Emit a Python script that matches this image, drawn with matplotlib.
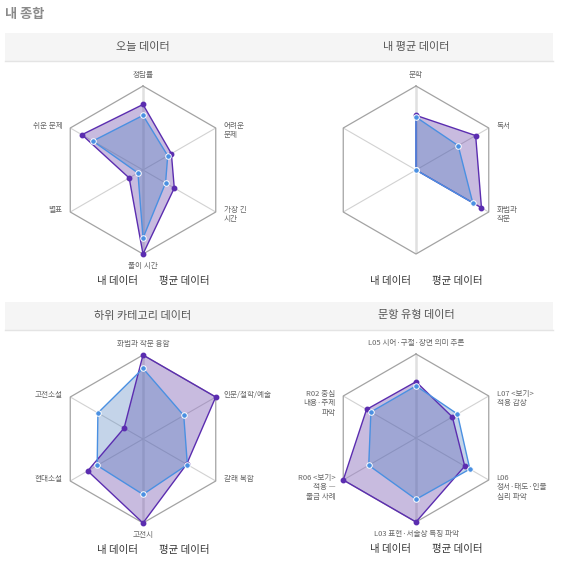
import numpy as np
import matplotlib.pyplot as plt
from matplotlib.patches import Rectangle

plt.rcParams['font.family'] = ['Noto Sans CJK KR', 'DejaVu Sans']

W, H = 561, 581

# ---- data ----
today_labels = ["정답률", "어려운\n문제", "가장 긴\n시간", "풀이 시간", "별표", "쉬운 문제"]
today_mine = [78, 39, 43, 100, 19, 84]
today_avg = [65, 34, 31, 81, 7, 69]

myavg_labels = ["문학", "독서", "화법과\n작문", "", "", ""]
myavg_mine = [65, 82, 90, 0, 0, 0]
myavg_avg = [63, 58, 78, 0, 0, 0]

sub_labels = ["화법과 작문 융합", "인문/철학/예술", "갈래 복합", "고전시", "현대소설", "고전소설"]
sub_mine = [100, 100, 60, 100, 76, 26]
sub_avg = [84, 56, 61, 66, 63, 62]

type_labels = ["L05 시어·구절·장면 의미 추론", "L07 <보기>\n적용 감상", "L06\n정서·태도·인물\n심리 파악",
               "L03 표현·서술상 특징 파악", "R06 <보기>\n적용 —\n출금 사례", "R02 중심\n내용·주제\n파악"]
type_mine = [67, 50, 67, 100, 100, 68]
type_avg = [62, 57, 74, 73, 65, 62]

panel_titles = ["오늘 데이터", "내 평균 데이터", "하위 카테고리 데이터", "문항 유형 데이터"]
legend_names = ["내 데이터", "평균 데이터"]

panels = [
    (panel_titles[0], today_labels, today_mine, today_avg, (143, 170)),
    (panel_titles[1], myavg_labels, myavg_mine, myavg_avg, (416, 170)),
    (panel_titles[2], sub_labels, sub_mine, sub_avg, (143, 439)),
    (panel_titles[3], type_labels, type_mine, type_avg, (416, 438)),
]

R = 84
purple = '#5b2db0'
blue = '#4a90e2'


def fx(x):
    return x / W


def fy(y):
    return 1 - y / H


fig = plt.figure(figsize=(W / 100, H / 100), dpi=100)
fig.patch.set_facecolor('white')

fig.text(fx(5), fy(14), "내 종합", fontsize=9.5, color='#8a8a8a', fontweight='bold', ha='left', va='center')

# header bars
for top in (33, 302):
    fig.patches.append(Rectangle((fx(5), fy(top + 28)), fx(548), 28 / H, transform=fig.transFigure,
                                 facecolor='#f5f5f5', edgecolor='none', zorder=0))
    fig.lines.append(plt.Line2D([fx(5), fx(553)], [fy(top + 28), fy(top + 28)], transform=fig.transFigure,
                                color='#e4e4e4', lw=1))

for title, labels, mine, avg, (cx, cy) in panels:
    fig.text(fx(cx), fy(cy - 123 if cy < 300 else cy - 123), title, fontsize=8, color='#555555',
             ha='center', va='center')

    ax = fig.add_axes([fx(cx - R), fy(cy + R), 2 * R / W, 2 * R / H], projection='polar')
    ax.set_theta_offset(np.pi / 2)
    ax.set_theta_direction(-1)
    ax.set_ylim(0, 100)
    ax.axis('off')

    n = len(labels)
    theta = np.arange(n) * 2 * np.pi / n
    tc = np.append(theta, theta[0])

    # grid
    for i, t in enumerate(theta):
        if i in (0, 3):
            ax.plot([t, t], [0, 100], color='#e0e0e0', lw=1.8, zorder=1)
        else:
            ax.plot([t, t], [0, 100], color='#d2d2d2', lw=0.8, zorder=1)
    ax.plot(tc, [100] * (n + 1), color='#a3a3a3', lw=0.9, zorder=1, clip_on=False)

    m = np.append(mine, mine[0])
    a = np.append(avg, avg[0])
    ax.fill(tc, m, color=(90 / 255, 50 / 255, 160 / 255), alpha=0.33, lw=0, zorder=2)
    ax.fill(tc, a, color=(74 / 255, 124 / 255, 189 / 255), alpha=0.32, lw=0, zorder=3)
    ax.plot(tc, m, color=purple, lw=1, zorder=4, clip_on=False)
    ax.plot(tc, a, color=blue, lw=1, zorder=5, clip_on=False)
    ax.plot(theta, mine, ls='none', marker='o', ms=3.2, color=purple, zorder=6, clip_on=False)
    ax.plot(theta, avg, ls='none', marker='o', ms=4, mfc=blue, mec='white', mew=0.7, zorder=7,
            clip_on=False)

    # point labels
    for i, (t, lab) in enumerate(zip(theta, labels)):
        if not lab:
            continue
        if i == 0:
            kw = dict(xytext=(0, 7), ha='center', va='bottom')
        elif i == n // 2:
            kw = dict(xytext=(0, -8), ha='center', va='top')
        elif i < n // 2:
            kw = dict(xytext=(8, 6), ha='left', va='top')
        else:
            kw = dict(xytext=(-8, 6), ha='right', va='top')
        ax.annotate(lab, xy=(t, 100), textcoords='offset pixels', fontsize=5.5, color='#666666',
                    linespacing=1.25, annotation_clip=False, **kw)

    # legend (text only)
    fig.text(fx(cx - 26), fy(cy + 111), legend_names[0], fontsize=7.5, color='#333333',
             ha='center', va='center')
    fig.text(fx(cx + 41), fy(cy + 111), legend_names[1], fontsize=7.5, color='#333333',
             ha='center', va='center')

fig.savefig('out.png', dpi=100)
